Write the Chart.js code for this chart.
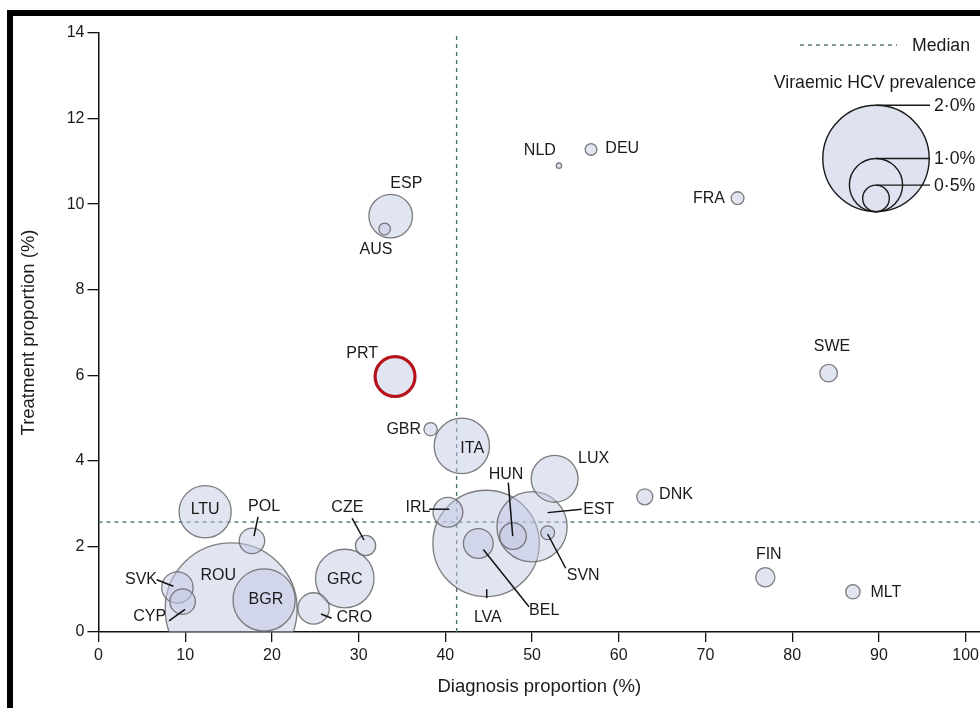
<!DOCTYPE html>
<html lang="en">
<head>
<meta charset="UTF-8">
<title>Diagnosis and treatment proportion</title>
<script src="https://cdn.jsdelivr.net/npm/chart.js"></script>
<style>
  html, body { margin: 0; padding: 0; background: #fff; }
  #wrap { position: relative; width: 980px; height: 708px; overflow: hidden; }
  #frame {
    position: absolute; left: 7px; top: 10px; right: 0; bottom: 0;
    border-top: 6px solid #000; border-left: 6px solid #000;
    pointer-events: none;
  }
</style>
</head>
<body>
<div id="wrap">
  <canvas id="chart"></canvas>
  <div id="frame"></div>
</div>
<script>
// values
const countries  = ['NLD','DEU','FRA','ESP','AUS','PRT','SWE','DNK','FIN','MLT','GBR','ITA','LUX','IRL','LVA','EST','HUN','BEL','SVN','LTU','POL','CZE','ROU','BGR','GRC','CRO','SVK','CYP'];
const diagnosis  = [53.1, 56.8, 73.7, 33.7, 33.0, 34.2, 84.2, 63.0, 76.9, 87.0, 38.3, 41.9, 52.6, 40.3, 44.7, 50.0, 47.8, 43.8, 51.8, 12.3, 17.7, 30.8, 15.3, 19.1, 28.4, 24.8, 9.1, 9.7];
const treatment  = [10.9, 11.28, 10.14, 9.72, 9.42, 5.97, 6.05, 3.16, 1.28, 0.94, 4.74, 4.35, 3.58, 2.80, 2.07, 2.46, 2.24, 2.07, 2.32, 2.81, 2.13, 2.02, 0.54, 0.75, 1.25, 0.55, 1.04, 0.71];
const prevalence = [0.1, 0.22, 0.24, 0.82, 0.22, 0.75, 0.33, 0.3, 0.36, 0.27, 0.25, 1.04, 0.88, 0.56, 2.0, 1.32, 0.5, 0.56, 0.26, 0.98, 0.48, 0.38, 2.48, 1.17, 1.1, 0.59, 0.59, 0.48];
const highlighted = 'PRT';

const medianDiagnosis = 41.3;
const medianTreatment = 2.57;

const xTicks = [0, 10, 20, 30, 40, 50, 60, 70, 80, 90, 100];
const yTicks = [0, 2, 4, 6, 8, 10, 12, 14];
const legendSizes = [2.0, 1.0, 0.5];
const legendLabels = ['2·0%', '1·0%', '0·5%'];

// label placement (data units)
const labelAt = {
  NLD: [50.9, 11.24], DEU: [60.4, 11.29], FRA: [70.4, 10.14], ESP: [35.5, 10.49],
  AUS: [32.0, 8.93], PRT: [30.4, 6.5], SWE: [84.6, 6.66], GBR: [35.2, 4.72],
  ITA: [43.1, 4.28], LUX: [57.1, 4.05], HUN: [47.0, 3.69], DNK: [66.6, 3.2],
  IRL: [36.85, 2.9], EST: [57.7, 2.87], LTU: [12.3, 2.85], POL: [19.1, 2.92],
  CZE: [28.7, 2.9], FIN: [77.3, 1.82], SVN: [55.9, 1.33], ROU: [13.8, 1.33],
  SVK: [4.9, 1.22], GRC: [28.4, 1.22], BGR: [19.3, 0.75], MLT: [90.8, 0.91],
  BEL: [51.4, 0.51], CRO: [29.5, 0.33], CYP: [5.9, 0.35], LVA: [44.9, 0.33]
};
const leaders = {
  POL: [[18.4, 2.69], [17.93, 2.24]],
  CZE: [[29.24, 2.66], [30.62, 2.15]],
  SVK: [[6.71, 1.22], [8.63, 1.07]],
  CYP: [[8.13, 0.26], [9.98, 0.53]],
  CRO: [[25.66, 0.42], [26.89, 0.32]],
  IRL: [[38.12, 2.87], [40.46, 2.87]],
  HUN: [[47.26, 3.49], [47.77, 2.24]],
  EST: [[51.8, 2.79], [55.72, 2.87]],
  SVN: [[51.8, 2.29], [53.88, 1.49]],
  BEL: [[44.38, 1.93], [49.65, 0.59]],
  LVA: [[44.77, 1.0], [44.77, 0.79]]
};

const pxPerPercent = 26.6;   // bubble radius per 1% prevalence
const textColor = '#1c1a1b';
const fontFamily = "'Liberation Sans', Arial, sans-serif";
const bubbleFill = 'rgba(195, 201, 227, 0.5)';
const medianColor = '#4f6f78';

const points = countries.map((c, i) => ({ x: diagnosis[i], y: treatment[i], r: prevalence[i] * pxPerPercent, c }))
  .sort((a, b) => b.r - a.r);

const annotate = {
  id: 'annotate',
  afterDatasetsDraw(chart) {
    const { ctx, scales: { x, y } } = chart;
    ctx.save();
    ctx.strokeStyle = '#111';
    ctx.lineWidth = 1.5;
    Object.values(leaders).forEach(([a, b]) => {
      ctx.beginPath();
      ctx.moveTo(x.getPixelForValue(a[0]), y.getPixelForValue(a[1]));
      ctx.lineTo(x.getPixelForValue(b[0]), y.getPixelForValue(b[1]));
      ctx.stroke();
    });

    ctx.fillStyle = textColor;
    ctx.font = '16px ' + fontFamily;
    ctx.textAlign = 'center';
    ctx.textBaseline = 'middle';
    countries.forEach(c => {
      const p = labelAt[c];
      ctx.fillText(c, x.getPixelForValue(p[0]), y.getPixelForValue(p[1]));
    });

    // legend, top right
    ctx.font = '17.7px ' + fontFamily;
    ctx.strokeStyle = medianColor;
    ctx.lineWidth = 1.4;
    ctx.setLineDash([4, 4]);
    ctx.beginPath();
    ctx.moveTo(800, 45);
    ctx.lineTo(897, 45);
    ctx.stroke();
    ctx.setLineDash([]);
    ctx.textAlign = 'left';
    ctx.fillText('Median', 912, 46);
    ctx.textAlign = 'right';
    ctx.fillText('Viraemic HCV prevalence', 976, 83);

    const cx = 876, bottom = 211.7;
    ctx.strokeStyle = '#1a1a1a';
    ctx.lineWidth = 1.4;
    legendSizes.forEach((s, i) => {
      const r = s * pxPerPercent;
      ctx.beginPath();
      ctx.arc(cx, bottom - r, r, 0, Math.PI * 2);
      if (i === 0) { ctx.fillStyle = '#dfe2f0'; ctx.fill(); }
      ctx.stroke();
    });
    ctx.fillStyle = textColor;
    ctx.textAlign = 'left';
    legendSizes.forEach((s, i) => {
      const top = bottom - 2 * s * pxPerPercent;
      ctx.beginPath();
      ctx.moveTo(cx, top);
      ctx.lineTo(930, top);
      ctx.stroke();
      ctx.fillText(legendLabels[i], 934, top + 1);
    });
    ctx.restore();
  }
};

new Chart(document.getElementById('chart'), {
  type: 'bubble',
  data: {
    datasets: [
      {
        type: 'bubble',
        data: points,
        backgroundColor: bubbleFill,
        borderColor: ctx => (ctx.raw && ctx.raw.c === highlighted) ? '#b5121b' : 'rgba(95, 95, 95, 0.8)',
        borderWidth: ctx => (ctx.raw && ctx.raw.c === highlighted) ? 3.2 : 1.3,
        clip: { left: false, top: false, right: false, bottom: 0 },
        order: 1
      },
      {
        type: 'line',
        data: [{ x: medianDiagnosis, y: 0 }, { x: medianDiagnosis, y: 14 }],
        borderColor: medianColor, borderWidth: 1.4, borderDash: [4, 4],
        pointRadius: 0, order: 2
      },
      {
        type: 'line',
        data: [{ x: 0, y: medianTreatment }, { x: 102, y: medianTreatment }],
        borderColor: medianColor, borderWidth: 1.4, borderDash: [4, 4],
        pointRadius: 0, order: 2
      }
    ]
  },
  options: {
    responsive: true,
    maintainAspectRatio: false,
    animation: false,
    events: [],
    layout: { autoPadding: false, padding: { top: 33, left: 0, right: 0, bottom: 0 } },
    plugins: { legend: { display: false }, tooltip: { enabled: false } },
    scales: {
      x: {
        type: 'linear', min: 0, max: 101.66, z: 1,
        afterBuildTicks: s => { s.ticks = xTicks.map(v => ({ value: v })); },
        afterFit: s => { s.height = 76; s.paddingLeft = 0; s.paddingRight = 0; },
        grid: { drawOnChartArea: false, color: '#111', lineWidth: 1.3, tickLength: 10 },
        border: { color: '#111', width: 1.5 },
        ticks: { color: textColor, font: { family: fontFamily, size: 16 }, padding: 4, maxRotation: 0 },
        title: { display: true, text: 'Diagnosis proportion (%)', color: textColor,
                 font: { family: fontFamily, size: 18.5 }, padding: { top: 0, bottom: 10 } }
      },
      y: {
        type: 'linear', min: 0, max: 14, z: 1,
        afterBuildTicks: s => { s.ticks = yTicks.map(v => ({ value: v })); },
        afterFit: s => { s.width = 98.5; s.paddingTop = 0; s.paddingBottom = 0; },
        grid: { drawOnChartArea: false, color: '#111', lineWidth: 1.3, tickLength: 11 },
        border: { color: '#111', width: 1.5 },
        ticks: { color: textColor, font: { family: fontFamily, size: 16 }, padding: 3 },
        title: { display: true, text: 'Treatment proportion (%)', color: textColor,
                 font: { family: fontFamily, size: 18.5 }, padding: { top: 18, bottom: 0 } }
      }
    }
  },
  plugins: [annotate]
});
</script>
</body>
</html>
